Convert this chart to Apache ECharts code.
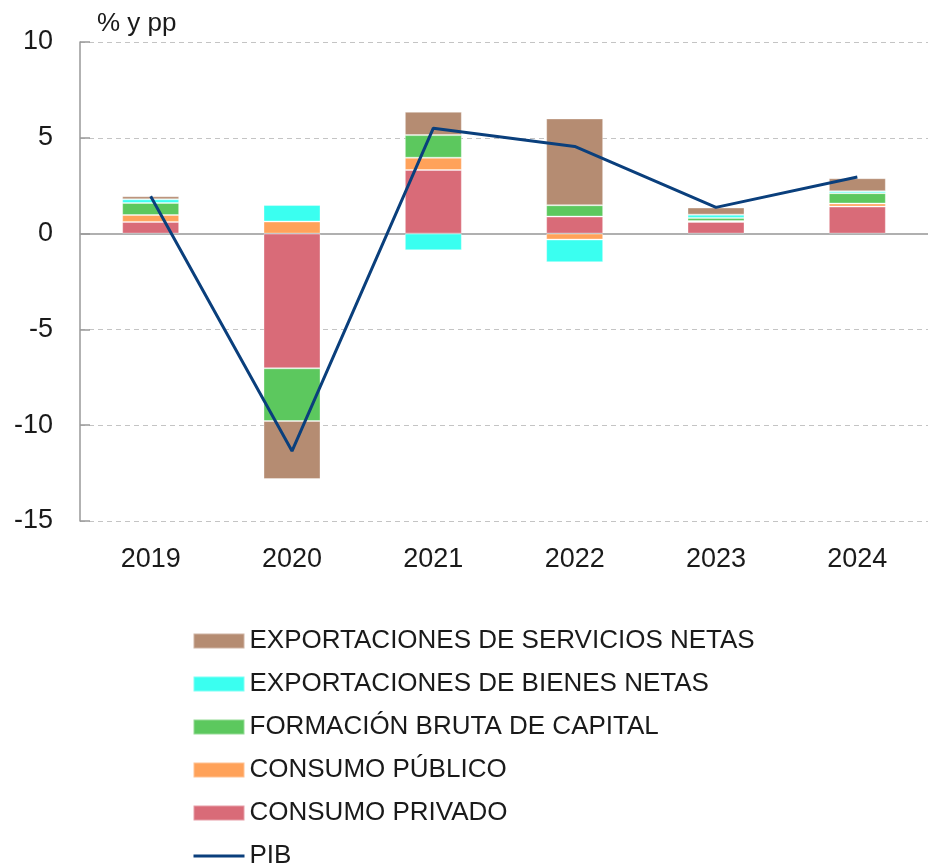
<!DOCTYPE html>
<html>
<head>
<meta charset="utf-8">
<script src="https://cdn.jsdelivr.net/npm/echarts@6/dist/echarts.min.js"></script>
<style>
html, body { margin: 0; padding: 0; background: #fff; }
#main { width: 928px; height: 868px; }
</style>
</head>
<body>
<div id="main"></div>
<script>
var years = ['2019', '2020', '2021', '2022', '2023', '2024'];
var consumoPrivado = [0.61, -7.03, 3.32, 0.89, 0.61, 1.41];
var consumoPublico = [0.36, 0.63, 0.64, -0.31, 0.05, 0.16];
var formacionCapital = [0.63, -2.75, 1.18, 0.59, 0.16, 0.54];
var exportBienes = [0.19, 0.86, -0.87, -1.18, 0.17, 0.10];
var exportServicios = [0.16, -3.03, 1.22, 4.53, 0.37, 0.68];
var pib = [1.95, -11.35, 5.5, 4.55, 1.37, 2.95];

var FONT = '"Liberation Sans", Arial, sans-serif';
var TEXT = '#1a1a1a';
var PIB_COLOR = '#0a3f7c';

var chartDom = document.getElementById('main');
var myChart = echarts.init(chartDom);
var option;

function barSeries(name, data, color) {
	return {
		name: name,
		type: 'bar',
		stack: 'total',
		barWidth: 57,
		data: data,
		itemStyle: { color: color, borderColor: 'rgba(255,255,255,0.35)', borderWidth: 1 }
	};
}

option = {
	animation: false,
	textStyle: { fontFamily: FONT },
	title: {
		text: '% y pp',
		left: 97,
		top: 11,
		padding: 0,
		textStyle: { fontFamily: FONT, fontSize: 26, fontWeight: 'normal', color: TEXT }
	},
	grid: { left: 80, right: 0, top: 42, bottom: 347 },
	legend: {
		orient: 'vertical',
		left: 192,
		top: 628,
		height: 300,
		padding: 0,
		itemWidth: 51,
		itemHeight: 15,
		itemGap: 17,
		textStyle: { fontFamily: FONT, fontSize: 26, color: TEXT, padding: 0 },
		data: [
			{ name: 'EXPORTACIONES DE SERVICIOS NETAS', icon: 'rect' },
			{ name: 'EXPORTACIONES DE BIENES NETAS', icon: 'rect' },
			{ name: 'FORMACIÓN BRUTA DE CAPITAL', icon: 'rect' },
			{ name: 'CONSUMO PÚBLICO', icon: 'rect' },
			{ name: 'CONSUMO PRIVADO', icon: 'rect' },
			{ name: 'PIB', itemStyle: { opacity: 0 }, lineStyle: { width: 3, color: PIB_COLOR } }
		]
	},
	xAxis: [{
		type: 'category',
		position: 'bottom',
		data: years,
		axisLine: { onZero: true, lineStyle: { color: '#b0b0b0', width: 2 } },
		axisTick: { length: 10, lineStyle: { color: '#999', width: 1.5 } },
		axisLabel: { show: false }
	}, {
		type: 'category',
		position: 'bottom',
		data: years,
		axisLine: { show: false, onZero: true },
		axisTick: { inside: true, length: 10, lineStyle: { color: '#999', width: 1.5 } },
		axisLabel: { show: false }
	}, {
		type: 'category',
		position: 'bottom',
		data: years,
		axisLine: { show: false, onZero: false },
		axisTick: { show: false },
		axisLabel: { margin: 25, fontSize: 27, color: TEXT, fontFamily: FONT }
	}],
	yAxis: {
		type: 'value',
		min: -15,
		max: 10,
		interval: 5,
		axisLine: { show: true, lineStyle: { color: '#999', width: 1.5 } },
		axisTick: { show: true, inside: true, length: 10, lineStyle: { color: '#999', width: 1.5 } },
		axisLabel: { margin: 27, fontSize: 27, color: TEXT, fontFamily: FONT },
		splitLine: { lineStyle: { color: '#c4c4c4', type: [5, 4], width: 1 } }
	},
	series: [
		barSeries('CONSUMO PRIVADO', consumoPrivado, '#d96b78'),
		barSeries('CONSUMO PÚBLICO', consumoPublico, '#ffa25a'),
		barSeries('FORMACIÓN BRUTA DE CAPITAL', formacionCapital, '#5cc85e'),
		barSeries('EXPORTACIONES DE BIENES NETAS', exportBienes, '#3afff0'),
		barSeries('EXPORTACIONES DE SERVICIOS NETAS', exportServicios, '#b58c72'),
		{
			name: 'PIB',
			type: 'line',
			data: pib,
			symbol: 'none',
			z: 5,
			lineStyle: { color: PIB_COLOR, width: 3 },
			itemStyle: { color: PIB_COLOR }
		}
	]
};

option && myChart.setOption(option);
</script>
</body>
</html>
